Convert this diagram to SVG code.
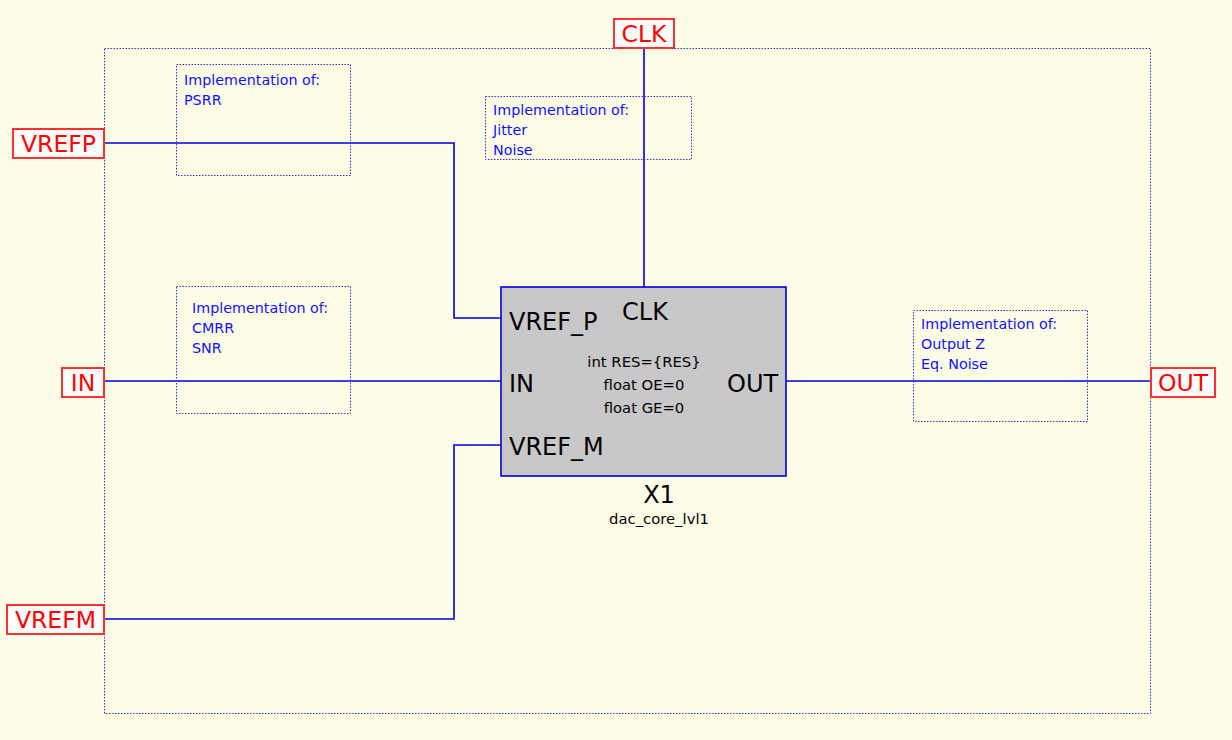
<svg xmlns="http://www.w3.org/2000/svg" width="1232" height="740" viewBox="0 0 1232 740">
<style>
.port rect{fill:#fff;stroke:#ff3030;stroke-width:2}
.port text{fill:#f00;font-family:"DejaVu Sans",sans-serif;font-size:23.5px;text-anchor:middle}
.note rect{fill:none;stroke:#3030ff;stroke-width:1;stroke-dasharray:1.5 1.5}
.note text{fill:#1010ff;font-family:"DejaVu Sans",sans-serif;font-size:14.3px}
.wire{fill:none;stroke:#0000e0;stroke-width:1.6}
.pin{fill:#000;font-family:"DejaVu Sans",sans-serif;font-size:24px}
.par{fill:#000;font-family:"DejaVu Sans",sans-serif;font-size:14.8px;text-anchor:middle}
</style>
<rect width="1232" height="740" fill="#ffffe8"/>
<rect id="frame" x="104.5" y="48.5" width="1046" height="665" fill="none" stroke="#3030ff" stroke-dasharray="1.5 1.5"/>
<g id="connectors">
<polyline class="wire" points="104,143 454,143 454,318 501,318"/>
<polyline class="wire" points="644,48 644,287"/>
<polyline class="wire" points="104,381 501,381"/>
<polyline class="wire" points="786,381 1151,381"/>
<polyline class="wire" points="104,619 454,619 454,445 501,445"/>
</g>
<g id="note-psrr" class="note"><rect x="176.5" y="64.5" width="174" height="111"/><text x="184" y="85">Implementation of:</text><text x="184" y="105">PSRR</text></g>
<g id="note-jitter" class="note"><rect x="485.5" y="96.5" width="206" height="63"/><text x="493" y="115">Implementation of:</text><text x="493" y="135">Jitter</text><text x="493" y="155">Noise</text></g>
<g id="note-cmrr" class="note"><rect x="176.5" y="286.5" width="174" height="127"/><text x="192" y="313">Implementation of:</text><text x="192" y="333">CMRR</text><text x="192" y="353">SNR</text></g>
<g id="note-out" class="note"><rect x="913.5" y="310.5" width="174" height="111"/><text x="921" y="329">Implementation of:</text><text x="921" y="349">Output Z</text><text x="921" y="369">Eq. Noise</text></g>
<g id="X1">
<rect x="501" y="287" width="285" height="189" fill="#c8c8c8" stroke="#0000e0" stroke-width="1.6"/>
<text class="pin" x="509" y="330">VREF_P</text>
<text class="pin" x="622" y="320">CLK</text>
<text class="pin" x="509" y="392">IN</text>
<text class="pin" x="727" y="392">OUT</text>
<text class="pin" x="509" y="455">VREF_M</text>
<text class="par" x="644" y="367">int RES={RES}</text>
<text class="par" x="644" y="390">float OE=0</text>
<text class="par" x="644" y="413">float GE=0</text>
<text class="pin" x="659" y="503" text-anchor="middle">X1</text>
<text class="par" x="659" y="524">dac_core_lvl1</text>
</g>
<g id="VREFP" class="port"><rect x="13" y="129" width="91" height="29"/><text x="58.5" y="152">VREFP</text></g>
<g id="CLK" class="port"><rect x="614" y="19" width="60" height="29"/><text x="644" y="42">CLK</text></g>
<g id="IN" class="port"><rect x="62" y="368" width="42" height="29"/><text x="83" y="391">IN</text></g>
<g id="VREFM" class="port"><rect x="7" y="605" width="97" height="29"/><text x="55.5" y="628">VREFM</text></g>
<g id="OUT" class="port"><rect x="1151" y="368" width="64" height="29"/><text x="1183" y="391">OUT</text></g>
</svg>
